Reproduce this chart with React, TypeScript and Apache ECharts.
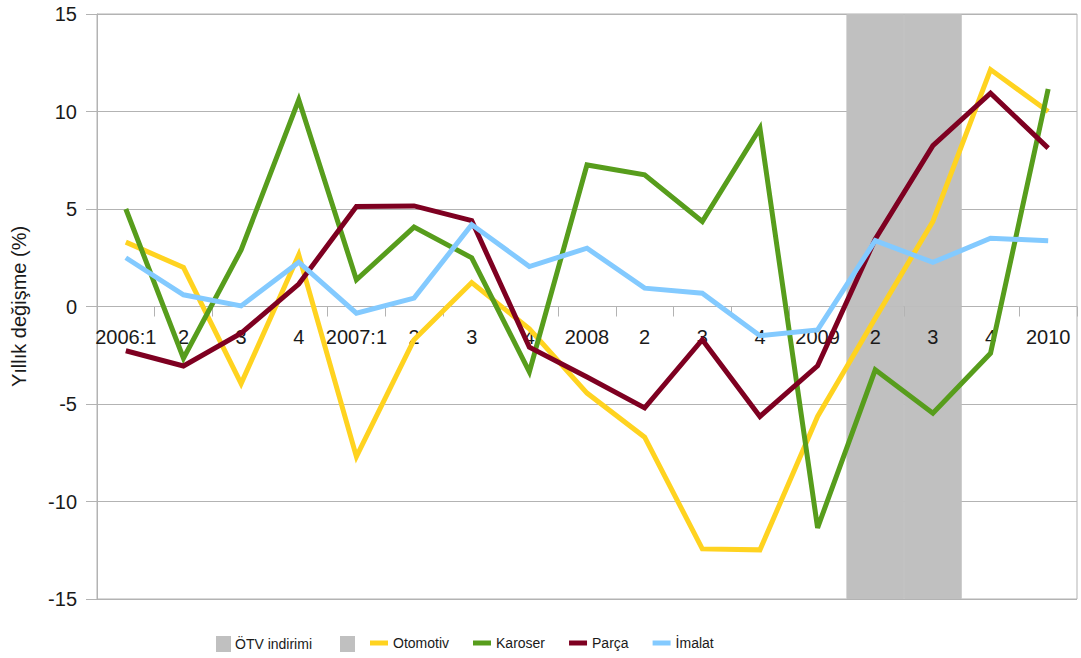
import React, { useEffect, useRef } from "react";
import * as echarts from "echarts";

const categories = ["2006:1", "2", "3", "4", "2007:1", "2", "3", "4", "2008", "2", "3", "4", "2009", "2", "3", "4", "2010"];
const otomotiv = [3.3, 2.0, -3.95, 2.65, -7.7, -1.7, 1.23, -1.15, -4.44, -6.7, -12.43, -12.48, -5.64, -0.6, 4.36, 12.15, 10.0];
const karoser = [5.0, -2.65, 2.9, 10.6, 1.37, 4.07, 2.5, -3.35, 7.26, 6.75, 4.36, 9.15, -11.35, -3.25, -5.47, -2.4, 11.15];
const parca = [-2.27, -3.05, -1.37, 1.15, 5.13, 5.16, 4.4, -2.09, -3.62, -5.2, -1.7, -5.64, -3.04, 3.45, 8.25, 10.94, 8.12];
const imalat = [2.5, 0.6, 0.03, 2.27, -0.34, 0.43, 4.2, 2.05, 2.99, 0.94, 0.68, -1.5, -1.2, 3.38, 2.26, 3.5, 3.37];
const otvUp = [null, null, null, null, null, null, null, null, null, null, null, null, null, 15, 15, null, null];
const otvDown = [null, null, null, null, null, null, null, null, null, null, null, null, null, -15, -15, null, null];
const yTicks = { min: -15, max: 15, interval: 5 };

const FONT = "'Liberation Sans', Arial, sans-serif";
const GRID = "#b3b3b3";
const TEXT = "#1a1a1a";
const BAND = "#c0c0c0";

export default function App() {
  const ref = useRef<HTMLDivElement>(null);
  useEffect(() => {
    if (!ref.current) return;
    const chart = echarts.init(ref.current, undefined, { renderer: "svg" });
    const lineSeries = (name: string, data: number[], color: string) => ({
      name,
      type: "line",
      data,
      symbol: "none",
      z: 3,
      itemStyle: { color },
      lineStyle: { color, width: 5, join: "miter" },
    });
    const gridTop = 14;
    const gridBottom = 59;
    const plotHeight = 658 - gridTop - gridBottom;
    // place the category axis on the zero line (zero sits mid-way of the symmetric range)
    const zeroOffset = -plotHeight * (0 - yTicks.min) / (yTicks.max - yTicks.min);
    chart.setOption({
      animation: false,
      textStyle: { fontFamily: FONT, color: TEXT },
      grid: {
        left: 97,
        right: 4,
        top: gridTop,
        bottom: gridBottom,
        show: true,
        borderColor: GRID,
        borderWidth: 1,
      },
      legend: [
        {
          left: 216,
          top: 636,
          padding: 0,
          itemWidth: 13,
          itemHeight: 14,
          itemGap: 28,
          icon: "rect",
          textStyle: { fontSize: 14, color: TEXT, fontFamily: FONT },
          data: ["ÖTV indirimi", " "],
        },
        {
          left: 370,
          top: 636,
          padding: 0,
          itemWidth: 18,
          itemHeight: 5,
          itemGap: 24,
          icon: "rect",
          textStyle: { fontSize: 14, color: TEXT, fontFamily: FONT },
          data: ["Otomotiv", "Karoser", "Parça", "İmalat"],
        },
      ],
      xAxis: {
        type: "category",
        data: categories,
        boundaryGap: true,
        position: "bottom",
        offset: zeroOffset,
        z: 2,
        axisLine: { show: true, onZero: false, lineStyle: { color: GRID, opacity: 0 } },
        axisTick: {
          show: true,
          length: 10,
          lineStyle: { color: GRID },
          interval: (i: number) => i !== 13 && i !== 15,
        },
        axisLabel: { fontSize: 20, color: TEXT, margin: 20, fontFamily: FONT, interval: 0 },
        splitLine: { show: false },
      },
      yAxis: {
        type: "value",
        min: yTicks.min,
        max: yTicks.max,
        interval: yTicks.interval,
        name: "Yıllık değişme (%)",
        nameLocation: "middle",
        nameGap: 68,
        nameTextStyle: { fontSize: 20, color: TEXT, fontFamily: FONT },
        axisLine: { show: true, lineStyle: { color: GRID } },
        axisTick: { show: true, length: 11, lineStyle: { color: GRID } },
        axisLabel: { fontSize: 20, color: TEXT, margin: 20, fontFamily: FONT },
        splitLine: { show: true, lineStyle: { color: GRID, width: 1 } },
      },
      series: [
        {
          name: "ÖTV indirimi",
          type: "bar",
          data: otvUp,
          stack: "otv",
          barWidth: "100%",
          z: 1,
          itemStyle: { color: BAND, borderColor: BAND, borderWidth: 1 },
        },
        {
          name: " ",
          type: "bar",
          data: otvDown,
          stack: "otv",
          barWidth: "100%",
          z: 1,
          itemStyle: { color: BAND, borderColor: BAND, borderWidth: 1 },
        },
        lineSeries("Otomotiv", otomotiv, "#ffd320"),
        lineSeries("Karoser", karoser, "#579d1c"),
        lineSeries("Parça", parca, "#7e0021"),
        lineSeries("İmalat", imalat, "#83caff"),
      ],
    });
    return () => chart.dispose();
  }, []);
  return (
    <div
      ref={ref}
      style={{ position: "fixed", left: 0, top: 0, width: 1081, height: 658, background: "#fff" }}
    />
  );
}
